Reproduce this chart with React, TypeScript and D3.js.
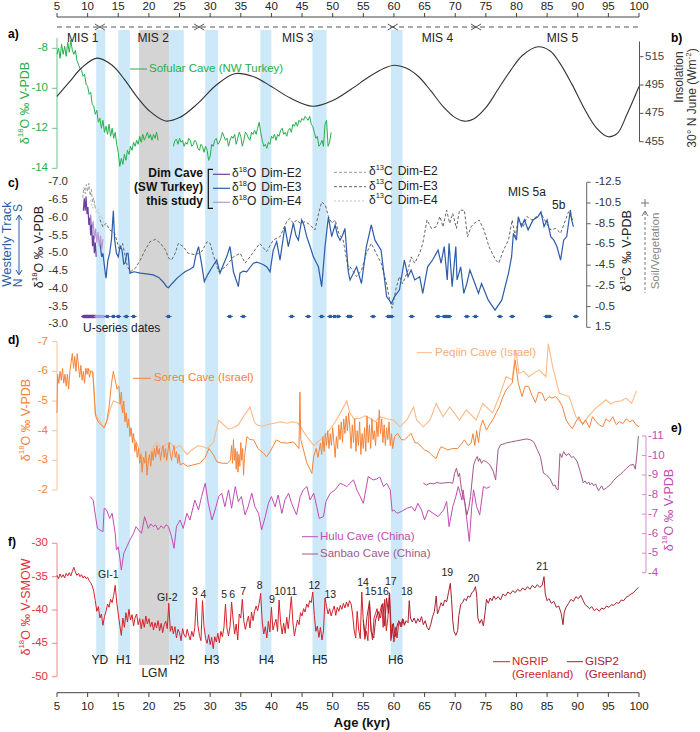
import React from 'react';
import * as d3 from 'd3';

type P = [number, number];

// ---------------- DATA ----------------
const ageTicks = [5, 10, 15, 20, 25, 30, 35, 40, 45, 50, 55, 60, 65, 70, 75, 80, 85, 90, 95, 100];
const ticksA = [-8, -10, -12, -14];
const ticksB = [515, 495, 475, 455];
const ticksC = [-7.0, -6.5, -6.0, -5.5, -5.0, -4.5, -4.0, -3.5, -3.0];
const ticksC13 = [-12.5, -10.5, -8.5, -6.5, -4.5, -2.5, -0.5, 1.5];
const ticksD = [-7, -6, -5, -4, -3, -2];
const ticksE = [-11, -10, -9, -8, -7, -6, -5, -4];
const ticksF = [-30, -35, -40, -45, -50];

// event bands (kyr)
const heinrichBands = [[11.4, 12.9], [15.0, 16.9], [23.3, 25.7], [29.2, 31.3], [38.2, 40.0], [46.7, 49.0], [59.5, 61.4]];
const lgmBand = [18.4, 23.3];
const eventNames = ['YD', 'H1', 'H2', 'H3', 'H4', 'H5', 'H6'];
const eventAges = [12.0, 15.9, 24.6, 30.25, 39.2, 47.9, 60.3];
const misBounds = [12.0, 28.2, 59.8, 73.4];
const misNames = ['MIS 1', 'MIS 2', 'MIS 3', 'MIS 4', 'MIS 5'];
const misAges = [9.2, 20.7, 44.3, 67.1, 87.5];

// a) Sofular Cave, regular 0.25 kyr sampling, rows of 1 kyr
const sofularStartA = 5;
const sofularStartB = 24;
const sofularStep = 0.25;
const sofularRowsA = [
  [-8.3, -8.0, -8.5, -7.8], [-8.3, -7.9, -8.4, -7.7], [-8.2, -7.6, -8.1, -8.3], [-8.1, -8.6, -8.8, -9.0],
  [-9.1, -9.4, -9.3, -9.8], [-9.9, -10.3, -10.2, -10.8], [-10.9, -11.3, -11.1, -11.7], [-11.5, -12.0, -11.6, -12.2],
  [-11.9, -12.3, -11.8, -12.4], [-12.0, -12.5, -12.2, -12.8], [-13.2, -13.9, -13.5, -13.8], [-13.3, -13.6, -13.1, -13.3],
  [-12.9, -13.1, -12.7, -12.9], [-12.6, -12.8, -12.4, -12.7], [-12.3, -12.6, -12.4, -12.2], [-12.5, -12.3, -12.6, -12.3],
  [-12.5, -12.2, -12.6],
];
const sofularRowsB = [
  [-12.9, -12.6, -12.55, -12.8], [-12.5, -12.7, -12.6, -12.9], [-12.7, -12.8, -12.5, -12.6], [-12.9, -12.8, -12.6, -12.7],
  [-13.0, -13.1, -12.8, -12.9], [-13.2, -12.9, -13.1, -13.6], [-13.4, -12.8, -12.9, -12.6], [-12.5, -12.8, -12.7, -12.5],
  [-12.2, -12.4, -12.6, -12.5], [-12.9, -12.6, -12.4, -12.5], [-12.3, -12.8, -12.5, -12.2], [-12.4, -12.9, -12.6, -12.2],
  [-12.3, -12.5, -12.6, -12.2], [-12.3, -12.1, -12.3, -12.0], [-11.7, -12.2, -12.6, -12.9], [-12.8, -13.0, -12.7, -12.8],
  [-12.4, -12.5, -12.3, -12.6], [-12.3, -12.4, -12.1, -12.0], [-12.3, -12.2, -12.4, -12.1], [-12.0, -12.2, -11.8, -11.9],
  [-11.7, -11.9, -11.6, -11.7], [-11.5, -11.6, -11.4, -11.5], [-11.6, -11.4, -11.8, -11.9], [-12.2, -12.5, -12.4, -12.9],
  [-12.8, -12.6, -12.9, -11.8], [-11.6, -12.9, -12.7, -12.2],
];

// b) Insolation 30N June
const insolAge = [5, 7, 9, 11.5, 14, 16, 18, 20, 22.7, 25, 28, 31, 34, 37, 40, 43, 46.8, 50, 53, 56, 58.5, 60, 62, 64, 66, 68, 70, 71.5, 73, 75, 77, 79, 81, 83.5, 85.5, 87, 89, 91, 93, 95, 96.5, 98, 100];
const insolVal = [487, 497, 507, 514, 509, 499, 487, 477, 469.6, 472, 482, 495, 503, 501, 494, 486, 480, 484, 492, 501, 507, 509, 507, 501, 491, 480, 472, 469.5, 471, 479, 492, 505, 516, 522, 519, 511, 496, 479, 465, 458.5, 461, 474, 494];

// c) Dim Cave
const dimE2_18O = [[9.3, -6.2], [9.45, -6.55], [9.6, -6.2], [9.75, -6.6], [9.9, -6.1], [10.05, -6.3], [10.2, -5.8], [10.35, -6.0], [10.5, -5.5], [10.65, -5.8], [10.8, -5.2], [10.95, -5.5], [11.1, -5.0], [11.25, -5.3], [11.4, -4.9]];
const dimE4_18O = [[10.3, -5.9], [10.5, -6.1], [10.7, -5.7], [10.9, -5.9], [11.1, -5.4], [11.3, -5.7], [11.5, -5.3], [11.7, -5.6], [11.9, -5.2], [12.1, -5.5], [12.3, -5.1], [12.5, -5.4]];
const dimE3_18O = [
  [12.0, -5.3], [12.3, -4.9], [12.5, -5.0], [12.8, -4.55], [13.0, -4.3], [13.3, -4.8], [13.6, -5.0], [13.9, -5.4], [14.2, -6.2], [14.4, -5.4],
  [14.7, -5.0], [15.0, -4.9], [15.3, -5.2], [15.6, -5.1], [15.9, -4.7], [16.1, -4.72], [16.4, -5.0], [16.6, -5.0], [16.9, -4.44], [17.6, -4.48],
  [18.6, -4.44], [19.6, -4.42], [20.7, -4.39], [21.6, -4.32], [22.3, -4.2], [22.9, -4.06], [23.2, -4.03], [23.8, -4.15], [24.6, -4.3], [25.3, -4.4],
  [25.9, -4.48], [26.7, -4.55], [27.3, -4.62], [27.6, -4.9], [28.1, -5.19], [28.6, -4.7], [29.05, -4.2], [29.6, -4.4], [30.3, -4.6], [31.07, -4.81],
  [31.6, -4.44], [32.2, -4.7], [32.7, -4.9], [33.24, -5.19], [33.8, -4.48], [34.6, -4.06], [34.87, -4.44], [35.4, -4.5], [35.97, -4.48], [36.5, -4.6],
  [37.05, -4.72], [37.6, -4.75], [38.14, -4.72], [38.7, -4.68], [39.23, -4.62], [39.77, -4.48], [40.3, -5.09], [40.86, -5.33], [41.4, -4.81], [42.2, -5.75],
  [42.76, -5.19], [43.58, -5.85], [44.0, -5.5], [44.4, -5.37], [44.94, -5.94], [45.3, -5.8], [45.76, -5.47], [46.3, -5.2], [46.85, -4.9], [47.3, -4.75],
  [47.67, -4.62], [48.2, -4.06], [48.75, -5.19], [49.3, -6.03], [49.84, -5.47], [50.4, -5.8], [50.8, -5.5], [51.2, -5.37], [51.6, -5.5], [52.0, -5.7],
  [52.55, -4.48], [52.83, -4.25], [53.9, -4.62], [54.7, -4.15], [55.5, -5.19], [56.3, -5.8], [56.9, -5.37], [57.9, -5.09], [58.8, -3.78], [59.6, -3.59],
  [60.1, -3.78], [60.9, -3.97], [61.7, -4.81], [62.3, -4.34], [62.8, -4.53], [63.4, -4.25], [64.2, -4.34], [64.7, -3.87], [65.5, -4.62], [66.3, -4.81],
  [67.2, -5.09], [67.7, -4.72], [68.2, -5.19], [68.7, -4.25], [69.0, -5.28], [69.5, -4.06], [70.1, -5.19], [70.3, -4.25], [70.9, -4.62], [71.4, -3.87],
  [71.9, -4.15], [72.4, -4.53], [73.0, -4.25], [73.8, -3.87], [74.3, -4.15], [75.4, -3.68], [76.5, -3.4], [77.6, -3.68], [78.7, -4.44], [79.2, -4.9],
  [79.5, -5.56], [80.0, -5.37], [80.3, -6.03], [80.8, -5.75], [81.3, -5.94], [81.9, -5.66], [82.7, -5.94], [83.5, -6.03], [84.0, -6.17], [84.5, -5.75],
  [85.0, -5.94], [85.6, -5.47], [86.1, -5.37], [86.6, -5.19], [87.2, -4.81], [87.7, -5.37], [88.2, -5.47], [88.8, -6.22], [89.0, -5.94], [89.3, -5.75],
];
const dimE2_13C = [[9.2, -11.0], [9.4, -12.0], [9.6, -11.4], [9.8, -12.3], [10.0, -11.6], [10.2, -12.4], [10.4, -11.2], [10.6, -11.8], [10.8, -10.6], [11.0, -11.0], [11.2, -10.2], [11.4, -9.8]];
const dimE4_13C = [[10.5, -10.8], [10.8, -10.0], [11.1, -10.4], [11.4, -9.6], [11.7, -9.9], [12.0, -9.0], [12.3, -9.3], [12.6, -8.6]];
const dimE3_13C = [
  [12.0, -8.9], [12.5, -8.2], [13.0, -8.54], [13.6, -7.9], [14.4, -7.58], [15.2, -5.97], [15.7, -6.6], [16.5, -4.35], [17.0, -3.87], [17.8, -4.2],
  [18.6, -5.0], [19.4, -5.97], [20.2, -6.77], [21.1, -7.0], [21.9, -6.6], [22.7, -5.97], [23.2, -5.2], [23.7, -5.0], [24.3, -5.65], [24.8, -6.6],
  [25.6, -6.3], [26.4, -5.65], [27.6, -5.5], [28.6, -5.8], [29.5, -6.77], [30.0, -6.6], [30.6, -5.3], [31.4, -3.87], [32.5, -4.35], [33.8, -5.3],
  [34.9, -5.65], [35.7, -4.7], [36.5, -5.3], [37.3, -5.97], [38.1, -6.6], [39.2, -5.8], [40.3, -6.93], [41.4, -7.25], [42.5, -8.7], [43.0, -9.0],
  [43.6, -8.54], [44.1, -8.86], [44.7, -8.54], [45.5, -8.7], [46.3, -8.4], [47.1, -7.9], [47.7, -9.5], [48.2, -10.6], [48.8, -10.3], [49.3, -9.2],
  [49.9, -8.54], [50.4, -8.86], [51.0, -7.58], [51.7, -6.93], [52.6, -4.0], [52.83, -4.35], [53.9, -3.4], [54.7, -4.0], [55.5, -5.65], [56.3, -6.6],
  [57.1, -5.65], [57.9, -4.7], [58.8, -2.7], [59.3, -1.14], [59.7, -0.35], [60.4, -2.4], [60.9, -3.4], [61.4, -2.7], [62.3, -4.0], [62.8, -5.3],
  [63.4, -4.7], [64.2, -5.65], [64.7, -6.6], [65.4, -8.86], [66.1, -8.05], [66.9, -8.2], [67.5, -9.2], [68.0, -8.2], [68.6, -9.8], [69.1, -8.54],
  [69.6, -9.5], [70.2, -8.05], [70.7, -9.8], [71.5, -9.8], [72.0, -7.25], [72.6, -8.2], [73.1, -8.54], [73.9, -8.86], [74.7, -7.9], [75.5, -6.3],
  [76.6, -5.0], [77.1, -4.7], [77.9, -5.97], [78.7, -6.93], [79.3, -8.86], [79.8, -7.25], [80.3, -9.0], [81.1, -8.2], [81.7, -9.2], [82.5, -8.86],
  [83.3, -9.2], [84.0, -9.5], [84.9, -8.54], [85.6, -7.9], [86.4, -8.05], [87.2, -7.58], [88.0, -8.86], [88.5, -9.66], [89.1, -8.86], [89.3, -9.2],
];
const useriesE2 = [9.4, 9.6, 9.8, 10.0, 10.2, 10.4, 10.6, 10.8, 11.0, 11.2];
const useriesE4 = [11.5, 11.8, 12.1, 12.5];
const useriesE3 = [13.2, 14.2, 15.0, 16.3, 17.5, 23.2, 33.2, 35.4, 43.3, 46.0, 48.2, 49.6, 50.3, 50.9, 52.6, 52.9, 56.6, 59.1, 59.6, 62.9, 67.2, 68.2, 68.6, 69.0, 71.9, 73.3, 77.3, 79.3, 84.9, 85.4, 89.7];

// d) Soreq & Peqiin
const soreq = [
  [5.0, -4.6], [5.1, -5.9], [5.3, -5.6], [5.5, -6.0], [5.7, -5.7], [5.9, -6.1], [6.1, -5.6], [6.3, -5.9], [6.5, -5.5], [6.7, -5.9], [6.9, -5.4], [7.1, -6.0],
  [7.3, -6.3], [7.5, -6.6], [7.7, -6.1], [7.9, -6.5], [8.1, -6.0], [8.3, -6.6], [8.5, -6.2], [8.7, -5.8], [8.9, -6.2], [9.1, -5.7], [9.3, -6.0], [9.5, -5.6],
  [9.7, -6.1], [9.9, -5.9], [10.1, -6.1], [10.3, -5.8], [10.5, -6.0], [10.8, -6.0], [11.1, -5.2], [11.3, -4.5], [11.7, -4.3], [12.2, -4.2], [12.7, -4.1],
  [13.1, -4.3], [13.5, -4.8], [13.9, -5.6], [14.2, -6.0], [14.5, -5.7], [14.8, -5.4], [15.1, -5.5], [15.3, -4.9], [15.5, -5.3], [15.7, -4.6], [15.9, -5.0],
  [16.1, -4.3], [16.3, -4.6], [16.5, -4.1], [16.7, -4.4], [16.9, -3.8], [17.1, -4.1], [17.3, -3.6], [17.5, -3.9], [17.7, -3.3], [17.9, -3.6], [18.1, -3.1],
  [18.3, -3.4], [18.5, -2.9], [18.7, -3.2], [18.9, -2.6], [19.1, -3.1], [19.3, -2.9], [19.5, -3.3], [19.7, -2.5], [19.9, -3.0], [20.1, -3.2], [20.3, -2.8],
  [20.5, -3.3], [20.7, -3.0], [20.9, -3.4], [21.1, -3.1], [21.3, -3.5], [21.5, -3.2], [21.7, -3.4], [21.9, -3.0], [22.1, -3.3], [22.3, -3.5], [22.5, -3.1],
  [22.7, -3.4], [22.9, -3.0], [23.1, -3.3], [23.3, -3.6], [23.5, -3.2], [23.7, -3.0], [23.9, -3.3], [24.1, -3.5], [24.3, -3.1], [24.5, -3.3], [24.7, -2.9],
  [24.9, -3.2], [25.1, -2.85], [25.6, -2.9], [26.3, -2.8], [27.3, -2.85], [28.3, -2.9], [29.2, -3.1], [29.8, -3.4], [30.5, -3.2], [31.1, -2.95], [32.0, -2.9],
  [32.8, -2.9], [33.3, -3.0], [33.5, -3.5], [33.65, -2.9], [33.8, -3.7], [33.95, -3.0], [34.1, -3.4], [34.25, -2.7], [34.4, -3.3], [34.55, -2.6], [34.7, -3.2],
  [34.85, -2.8], [35.0, -3.6], [35.15, -3.0], [35.3, -3.4], [35.45, -2.5], [35.6, -3.1], [36.0, -3.8], [36.5, -3.7], [37.1, -3.69], [37.8, -3.4], [38.7, -3.24],
  [39.2, -3.12], [39.8, -3.3], [40.8, -3.69], [41.6, -3.6], [42.5, -3.58], [43.6, -3.62], [44.5, -3.4], [44.65, -5.3], [44.8, -3.7], [45.3, -3.3], [45.8, -2.9],
  [46.3, -2.7], [46.6, -2.56], [46.9, -3.12], [47.3, -3.4], [47.6, -3.1], [48.0, -3.58], [48.2, -3.2], [48.4, -3.8], [48.6, -3.3], [48.8, -3.9], [49.0, -3.5],
  [49.2, -4.0], [49.4, -3.4], [49.6, -3.9], [49.8, -3.5], [50.0, -4.1], [50.2, -3.6], [50.4, -3.1], [50.6, -3.8], [50.8, -3.4], [51.0, -4.2], [51.2, -3.7],
  [51.4, -4.3], [51.6, -3.6], [51.8, -4.4], [52.0, -3.9], [52.2, -4.5], [52.4, -4.0], [52.6, -4.6], [52.8, -4.1], [53.0, -3.4], [53.2, -4.2], [53.4, -3.6],
  [53.6, -4.4], [53.8, -3.3], [54.0, -4.0], [54.2, -3.5], [54.4, -4.3], [54.6, -3.2], [54.8, -3.9], [55.0, -3.4], [55.2, -4.1], [55.4, -3.3], [55.6, -4.5],
  [55.8, -3.6], [56.0, -4.2], [56.2, -3.4], [56.4, -4.4], [56.6, -3.7], [56.8, -4.0], [57.0, -3.5], [57.2, -4.3], [57.4, -3.8], [57.6, -4.7], [57.8, -3.9],
  [58.0, -4.4], [58.2, -3.6], [58.4, -4.2], [58.6, -3.5], [58.8, -4.1], [59.0, -3.7], [59.2, -4.3], [59.4, -3.5], [59.6, -3.9], [59.8, -3.4], [60.1, -3.8],
  [60.6, -3.91], [61.2, -3.7], [61.7, -3.69], [62.3, -3.8], [62.8, -3.91], [63.4, -3.6], [63.9, -3.58], [64.5, -3.45], [65.0, -3.35], [65.6, -3.3], [66.1, -3.19],
  [66.9, -3.06], [67.3, -3.3], [67.7, -3.46], [68.3, -3.4], [68.8, -3.35], [69.6, -3.4], [70.4, -3.4], [71.0, -3.55], [71.5, -3.69], [72.1, -3.5], [72.6, -3.58],
  [72.9, -3.9], [73.2, -3.5], [73.5, -4.0], [73.8, -3.6], [74.1, -4.1], [74.5, -4.36], [75.1, -4.02], [75.6, -4.2], [76.1, -4.36], [76.7, -4.6], [77.2, -4.8],
  [77.7, -5.1], [78.3, -5.37], [78.8, -5.5], [79.3, -5.6], [79.8, -6.38], [80.3, -5.6], [80.9, -5.15], [81.4, -5.5], [82.0, -5.49], [82.5, -5.2], [83.1, -4.95],
  [83.6, -5.3], [84.2, -5.26], [84.7, -5.0], [85.3, -5.15], [85.8, -5.1], [86.4, -5.15], [87.0, -5.0], [87.5, -4.81], [88.1, -4.36], [88.6, -4.2], [89.1, -4.07],
  [89.7, -4.3], [90.2, -4.47], [90.8, -4.2], [91.3, -4.36], [91.9, -4.1], [92.4, -4.47], [93.0, -4.3], [93.5, -4.2], [94.1, -4.13], [94.6, -4.4], [95.2, -4.3],
  [95.7, -4.47], [96.3, -4.2], [96.8, -4.3], [97.4, -4.24], [97.9, -4.4], [98.5, -4.3], [99.0, -4.36], [99.5, -4.2], [100.0, -4.13],
];
const peqiin = [
  [9.5, -6.05], [10.0, -6.1], [10.5, -6.0], [10.9, -5.95], [11.2, -4.6], [11.6, -4.45], [12.2, -4.25], [12.6, -4.1], [13.2, -4.35], [13.8, -4.8], [14.2, -5.0],
  [14.8, -4.95], [15.3, -4.9], [16.1, -4.5], [16.9, -4.1], [17.5, -3.75], [18.0, -3.6], [18.5, -3.3], [19.2, -3.0], [19.6, -2.9], [20.2, -3.2], [20.8, -3.5],
  [21.3, -3.6], [22.0, -3.4], [22.8, -3.55], [23.5, -3.6], [24.2, -3.4], [25.1, -3.5], [25.6, -3.35], [26.2, -3.2], [27.0, -3.35], [28.0, -3.5], [29.0, -3.45],
  [29.5, -3.4], [30.5, -3.6], [31.4, -4.35], [32.2, -4.2], [33.0, -4.05], [33.8, -4.1], [34.6, -4.2], [35.5, -4.5], [36.2, -4.7], [36.5, -4.8], [37.2, -4.3],
  [37.6, -4.2], [38.5, -4.15], [39.2, -4.2], [40.5, -4.25], [41.5, -4.3], [42.5, -4.25], [43.5, -4.3], [44.4, -4.25], [45.3, -3.95], [45.8, -3.8], [46.9, -3.5],
  [48.0, -3.7], [49.0, -3.9], [50.1, -4.2], [51.0, -4.5], [52.3, -5.0], [52.8, -4.6], [53.5, -4.4], [54.5, -4.42], [55.3, -4.5], [56.1, -4.42], [56.9, -4.3],
  [57.7, -4.47], [58.8, -4.4], [59.9, -4.36], [61.0, -4.13], [62.1, -4.36], [63.2, -4.8], [63.7, -4.36], [64.8, -4.13], [65.9, -4.36], [66.9, -4.92], [68.0, -4.47],
  [69.1, -4.8], [70.7, -4.36], [71.8, -4.7], [73.4, -4.36], [74.5, -4.92], [76.1, -4.6], [77.2, -5.15], [78.3, -5.82], [79.3, -5.72], [79.9, -6.73], [80.4, -5.93],
  [81.2, -6.0], [82.0, -5.82], [82.9, -5.95], [83.7, -6.05], [84.8, -5.82], [85.2, -6.94], [85.9, -6.16], [87.0, -5.26], [88.6, -5.15], [89.7, -4.47], [90.8, -4.24],
  [91.8, -4.5], [92.9, -4.75], [93.8, -4.9], [94.6, -5.04], [95.4, -4.9], [96.2, -4.98], [97.0, -5.0], [97.9, -5.1], [98.8, -4.92], [99.6, -5.35],
];

// e) Hulu & Sanbao
const hulu = [
  [10.4, -7.9], [10.9, -7.72], [11.3, -6.87], [11.6, -6.27], [12.0, -6.19], [12.5, -6.1], [12.7, -7.3], [13.1, -7.21], [13.6, -6.78], [14.0, -7.04], [14.5, -6.02],
  [14.7, -5.16], [15.0, -5.33], [15.3, -4.65], [15.5, -4.14], [15.9, -4.99], [16.4, -5.33], [16.9, -5.67], [17.5, -6.02], [17.9, -6.36], [18.3, -6.19], [18.8, -6.02],
  [19.3, -6.87], [19.9, -6.27], [20.3, -6.5], [20.7, -6.36], [21.1, -6.45], [21.5, -6.19], [22.0, -6.4], [22.4, -6.27], [22.8, -6.45], [23.2, -6.36], [23.7, -5.84],
  [24.1, -5.25], [24.5, -6.36], [25.1, -6.7], [25.6, -6.27], [26.2, -7.04], [26.7, -6.7], [27.5, -7.72], [28.1, -7.21], [28.6, -7.9], [29.2, -8.58], [29.7, -7.55],
  [30.3, -6.7], [30.8, -7.21], [31.4, -7.9], [31.9, -8.07], [32.4, -7.38], [33.0, -8.24], [33.5, -7.3], [34.1, -8.41], [34.6, -7.64], [35.1, -7.9], [35.7, -6.96],
  [36.2, -7.38], [36.8, -8.07], [37.3, -7.38], [37.9, -7.04], [38.4, -6.19], [39.0, -6.87], [39.5, -7.55], [40.0, -7.9], [40.6, -7.38], [41.1, -7.98], [41.7, -7.04],
  [42.2, -7.72], [42.8, -8.07], [43.3, -7.55], [44.1, -6.96], [44.7, -7.9], [45.2, -8.24], [45.8, -8.41], [46.3, -7.72], [46.9, -8.07], [47.4, -7.38], [47.8, -6.78],
  [48.5, -6.87], [48.9, -7.64], [49.6, -8.07], [50.4, -8.24], [51.2, -8.58], [51.8, -8.5], [52.3, -8.41], [52.8, -8.58], [53.4, -8.75], [54.0, -8.2], [54.5, -7.9],
  [55.0, -7.55], [55.8, -8.92], [56.6, -8.75], [57.2, -8.8], [57.7, -8.9], [58.3, -8.41], [58.8, -8.58], [59.4, -8.24], [59.7, -7.15], [60.0, -7.21], [60.5, -7.04],
  [61.3, -7.15], [62.1, -7.3], [62.9, -7.38], [63.4, -7.15], [63.9, -7.55], [64.5, -7.21], [65.0, -6.7], [65.6, -7.21], [66.4, -7.04], [67.2, -6.87], [68.1, -7.21],
  [68.6, -7.64], [69.0, -6.36], [69.6, -7.38], [70.1, -7.9], [70.5, -8.41], [71.1, -7.72], [71.3, -8.24], [71.9, -6.7], [72.3, -5.6], [72.7, -7.38], [73.0, -8.24],
  [73.5, -7.38], [74.0, -6.96], [74.6, -8.41], [75.1, -8.32], [75.7, -8.41],
];
const sanbao = [
  [64.8, -8.58], [65.3, -8.49], [65.9, -8.58], [66.5, -8.55], [67.0, -8.62], [67.5, -8.58], [68.3, -8.6], [69.1, -8.62], [69.6, -8.58], [69.9, -9.09], [70.2, -9.35],
  [70.5, -8.92], [70.7, -9.1], [71.0, -8.3], [71.3, -7.9], [71.6, -7.55], [71.9, -6.95], [72.2, -7.3], [72.5, -7.9], [73.0, -9.5], [73.3, -9.77], [73.6, -9.95],
  [73.8, -9.7], [74.0, -9.85], [74.3, -9.6], [74.6, -9.75], [75.1, -9.68], [75.7, -9.5], [76.2, -9.2], [76.6, -8.75], [77.0, -10.3], [77.4, -10.55], [78.0, -10.6],
  [78.4, -10.65], [79.2, -10.7], [80.0, -10.75], [80.8, -10.8], [81.7, -10.85], [82.3, -10.8], [82.8, -10.7], [83.4, -10.3], [83.9, -9.95], [84.4, -9.1],
  [84.9, -9.0], [85.5, -8.8], [85.8, -8.6], [86.0, -8.45], [86.3, -8.5], [86.5, -8.3], [86.8, -8.25], [87.1, -10.1], [87.4, -9.9], [87.7, -10.2], [88.1, -10.0],
  [88.5, -10.1], [89.0, -9.9], [89.3, -9.95], [89.9, -9.7], [90.4, -9.2], [90.9, -8.6], [91.2, -8.7], [91.5, -8.55], [91.8, -8.65], [92.0, -8.5], [92.3, -8.6],
  [92.6, -8.45], [92.9, -8.55], [93.1, -8.4], [93.4, -8.2], [93.6, -8.3], [93.9, -8.45], [94.2, -8.24], [94.7, -8.35], [95.3, -8.5], [95.8, -8.7], [96.4, -8.9],
  [97.0, -9.05], [97.5, -9.2], [98.0, -9.35], [98.5, -9.5], [99.1, -9.55], [99.4, -9.3], [99.7, -10.2], [99.9, -11.0],
];

// f) NGRIP (0.25 kyr rows from 5 ka) and GISP2
const ngripStart = 5;
const ngripStep = 0.25;
const ngripRows = [
  [-34.8, -35.3, -34.6, -35.1], [-34.7, -35.2, -34.5, -34.9], [-34.4, -34.9, -34.2, -33.6], [-34.3, -34.8, -34.5, -35.0],
  [-34.7, -35.2, -34.9, -35.3], [-35.1, -35.6, -35.9, -36.4], [-37.2, -38.6, -40.2, -39.5], [-41.2, -40.6, -42.3, -41.0],
  [-40.2, -39.1, -39.6, -38.4], [-38.9, -37.8, -36.3, -38.8], [-40.6, -42.3, -43.8, -41.2], [-42.6, -40.4, -41.8, -39.9],
  [-41.5, -40.7, -42.4, -41.1], [-40.6, -42.2, -41.3, -42.8], [-41.4, -42.6, -40.9, -42.1], [-41.3, -42.5, -41.8, -43.0],
  [-41.9, -42.7, -41.6, -43.1], [-42.0, -43.4, -42.2, -41.7], [-42.8, -39.0, -43.2, -42.4], [-43.6, -42.5, -44.2, -42.9],
  [-43.4, -44.6, -42.8, -43.7], [-44.1, -42.9, -43.8, -44.5], [-43.2, -44.0, -42.6, -38.2], [-42.3, -43.8, -44.6, -38.6],
  [-42.5, -44.3, -45.0, -43.7], [-45.2, -44.1, -45.8, -44.0], [-44.8, -43.5, -44.9, -43.2], [-44.0, -42.6, -39.1, -42.8],
  [-43.9, -42.4, -38.8, -41.5], [-43.6, -42.1, -44.5, -40.6], [-41.2, -38.4, -41.7, -42.9], [-41.8, -40.9, -42.7, -40.3],
  [-41.6, -40.2, -39.4, -40.1], [-39.0, -37.5, -41.8, -43.6], [-42.5, -44.2, -41.7, -43.3], [-39.6, -43.0, -42.1, -41.4],
  [-43.2, -38.5, -41.9, -43.6], [-42.0, -43.5, -41.1, -42.8], [-40.5, -38.0, -41.8, -43.9], [-42.6, -41.5, -42.2, -40.4],
  [-40.9, -39.8, -40.3, -39.1], [-39.6, -38.6, -38.9, -37.3], [-40.8, -43.2, -42.4, -44.1], [-42.6, -44.5, -43.1, -38.2],
  [-39.5, -40.6, -39.8, -40.9], [-40.1, -39.4, -40.8, -39.6], [-40.2, -39.3, -39.9, -39.0], [-39.7, -38.8, -39.5, -38.6],
  [-39.1, -40.6, -43.0, -44.2], [-40.2, -43.0, -44.3, -37.3], [-41.8, -44.4, -43.2, -44.6], [-38.6, -43.0, -44.5, -41.2],
  [-40.5, -39.8, -41.6, -40.2], [-39.2, -42.6, -38.4, -43.1], [-41.3, -37.4, -44.6, -42.1], [-44.8, -42.6, -44.2, -42.1],
  [-41.8, -42.5, -41.4, -42.2],
];
const gisp2 = [
  [55.0, -41.5], [55.3, -43.8], [55.6, -41], [56.0, -38.8], [56.3, -43.2], [56.7, -44.2], [57.0, -41.5], [57.4, -40.2], [57.8, -41.2], [58.2, -39], [58.5, -42.4],
  [58.8, -38.2], [59.1, -40.5], [59.3, -37.6], [59.6, -44.2], [59.9, -42], [60.2, -44], [60.5, -42.4], [60.8, -41.6], [61.1, -42.5], [61.4, -41.3], [61.7, -42.3],
  [62.0, -41.6], [62.3, -41.9], [62.5, -38.6], [62.7, -41.2], [63.0, -41.8], [63.3, -41.2], [63.6, -42.0], [63.9, -41.3], [64.2, -41.8], [64.5, -41.0], [64.8, -42.2],
  [65.1, -41.6], [65.4, -42.6], [65.7, -43.0], [66.0, -42.2], [66.3, -41.0], [66.6, -40.2], [66.9, -37.9], [67.1, -40.6], [67.4, -39.8], [67.7, -38.9], [68.0, -39.4],
  [68.3, -38.5], [68.6, -38.8], [68.9, -37.4], [69.2, -36.0], [69.4, -38.4], [69.6, -41.6], [69.8, -43.2], [70.1, -43.8], [70.4, -43.1], [70.6, -40.8], [70.9, -39.2],
  [71.2, -38.9], [71.5, -38.3], [71.8, -38.6], [72.1, -37.9], [72.4, -38.1], [72.7, -37.4], [73.0, -37.2], [73.3, -36.5], [73.5, -37.6], [73.7, -41.2], [74.0, -42.0],
  [74.3, -41.4], [74.6, -42.4], [74.9, -40.2], [75.1, -38.4], [75.4, -39.0], [75.7, -38.2], [76.0, -38.6], [76.3, -37.9], [76.6, -38.4], [77.0, -38.0], [77.4, -38.5],
  [77.8, -37.6], [78.2, -37.9], [78.6, -37.3], [79.0, -37.6], [79.4, -37.1], [79.8, -37.4], [80.2, -36.9], [80.6, -37.2], [81.0, -36.7], [81.4, -37.0], [81.8, -36.5],
  [82.2, -36.9], [82.6, -36.3], [83.0, -36.7], [83.4, -36.2], [83.8, -36.6], [84.2, -36.3], [84.5, -35.0], [84.7, -37.6], [85.0, -38.6], [85.3, -38.3], [85.7, -39.0],
  [86.1, -38.7], [86.5, -39.6], [86.9, -39.4], [87.3, -40.5], [87.6, -42.2], [87.8, -40.3], [88.1, -39.6], [88.5, -39.0], [88.9, -38.4], [89.3, -38.7], [89.7, -38.0],
  [90.1, -38.3], [90.5, -37.8], [90.9, -38.6], [91.2, -39.2], [91.5, -39.4], [91.9, -39.8], [92.3, -39.5], [92.7, -40.1], [93.1, -39.8], [93.5, -40.2], [93.9, -39.7],
  [94.3, -39.9], [94.7, -39.4], [95.1, -39.6], [95.5, -39.2], [95.9, -39.3], [96.3, -38.9], [96.7, -39.0], [97.1, -38.5], [97.5, -38.6], [97.9, -38.1], [98.3, -37.9],
  [98.7, -37.6], [99.1, -37.4], [99.5, -37.0], [99.9, -36.6],
];
const giNames = ['GI-1', 'GI-2', '3', '4', '5', '6', '7', '8', '9', '10', '11', '12', '13', '14', '15', '16', '17', '18', '19', '20', '21'];
const giAges = [13.37, 23.0, 27.5, 28.9, 32.3, 33.6, 35.4, 38.1, 40.1, 41.4, 43.3, 47.0, 49.6, 54.95, 56.2, 58.2, 59.5, 62.1, 68.7, 73.0, 84.2];
const giVals = [-34.75, -38.25, -37.26, -37.75, -37.75, -37.75, -37.3, -36.4, -38.5, -37.3, -37.3, -36.4, -37.75, -35.95, -37.26, -37.26, -35.9, -37.26, -34.5, -35.4, -33.6];

// ---------------- SCALES / HELPERS ----------------
const x = d3.scaleLinear().domain([5, 100]).range([57, 639]);
const yA = d3.scaleLinear().domain([-8, -14]).range([48.3, 168.3]);
const yB = d3.scaleLinear().domain([455, 515]).range([141.7, 56.7]);
const yC = d3.scaleLinear().domain([-7, -3]).range([182.3, 324.3]);
const yC13 = d3.scaleLinear().domain([-12.5, 1.5]).range([182.3, 327.3]);
const yD = d3.scaleLinear().domain([-7, -2]).range([341.7, 490]);
const yE = d3.scaleLinear().domain([-11, -4]).range([436, 572.7]);
const yF = d3.scaleLinear().domain([-30, -50]).range([543.3, 676.7]);

const expand = (start: number, step: number, rows: number[][]): P[] =>
  rows.flat().map((v, i) => [start + i * step, v] as P);

const mk = (ys: d3.ScaleLinear<number, number>, curve?: d3.CurveFactory) => {
  const g = d3.line<P>().x(d => x(d[0])).y(d => ys(d[1]));
  if (curve) g.curve(curve);
  return g;
};

const FONT = 'Liberation Sans, Arial, Helvetica, sans-serif';

function Iso({ fs, iso, el }: { fs: number; iso: string; el: string }) {
  return (
    <>
      <tspan>δ</tspan>
      <tspan fontSize={fs * 0.62} dy={-fs * 0.38}>{iso}</tspan>
      <tspan dy={fs * 0.38}>{el}</tspan>
    </>
  );
}

function RotText({ cx, cy, fs, fill, children, weight }: any) {
  return (
    <text transform={`translate(${cx},${cy}) rotate(-90)`} textAnchor="middle" dominantBaseline="middle" fontSize={fs} fill={fill} fontWeight={weight}>
      {children}
    </text>
  );
}

function LeftAxis({ ys, ticks, color, lineColor, top, bottom, fmt }: any) {
  return (
    <g>
      <line x1={57} x2={57} y1={top} y2={bottom} stroke={lineColor} strokeWidth={1} />
      {ticks.map((t: number) => (
        <g key={t}>
          <line x1={52} x2={57} y1={ys(t)} y2={ys(t)} stroke={lineColor} />
          <text x={48} y={ys(t)} textAnchor="end" dominantBaseline="middle" fontSize={11.5} fill={color}>{fmt ? fmt(t) : String(t)}</text>
        </g>
      ))}
    </g>
  );
}

function RightAxis({ ys, ticks, color, lineColor, ax, top, bottom, tickDir, fmt, labelX }: any) {
  return (
    <g>
      <line x1={ax} x2={ax} y1={top} y2={bottom} stroke={lineColor} strokeWidth={1} />
      {ticks.map((t: number) => (
        <g key={t}>
          <line x1={ax} x2={ax + tickDir * 4} y1={ys(t)} y2={ys(t)} stroke={lineColor} />
          <text x={labelX} y={ys(t)} textAnchor="start" dominantBaseline="middle" fontSize={11.5} fill={color}>{fmt ? fmt(t) : String(t)}</text>
        </g>
      ))}
    </g>
  );
}

export default function App() {
  const sofA = expand(sofularStartA, sofularStep, sofularRowsA);
  const sofB = expand(sofularStartB, sofularStep, sofularRowsB);
  const insol: P[] = insolAge.map((a, i) => [a, insolVal[i]]);
  const ngrip = expand(ngripStart, ngripStep, ngripRows);

  const lA = mk(yA);
  const lB = mk(yB, d3.curveCatmullRom);
  const lC = mk(yC);
  const lC13 = mk(yC13);
  const lD = mk(yD);
  const lE = mk(yE);
  const lF = mk(yF);

  const bandTop = 30;
  const blueBottom = 660;
  const greyBottom = 665;

  const green = '#27ae4a';
  const blue = '#2b5ca8';
  const purple = '#6b3fa0';
  const lpurple = '#b49ad6';
  const soreqC = '#f5843a';
  const peqiinC = '#fbb987';
  const huluC = '#c24cb4';
  const sanbaoC = '#9e5a85';
  const ngripC = '#d4222b';
  const gispC = '#a3232e';

  const yUs = yC(-3.22);

  return (
    <svg width={700} height={732} style={{ position: 'absolute', left: 0, top: 0, background: '#fff' }} fontFamily={FONT}>
      <rect x={0} y={0} width={700} height={732} fill="#fff" />
      {/* bands */}
      {heinrichBands.map((b, i) => (
        <rect key={i} x={x(b[0])} y={bandTop} width={x(b[1]) - x(b[0])} height={blueBottom - bandTop} fill="#cde9f9" />
      ))}
      <rect x={x(lgmBand[0])} y={bandTop} width={x(lgmBand[1]) - x(lgmBand[0])} height={greyBottom - bandTop} fill="#d4d4d4" />

      {/* top axis */}
      <line x1={x(5)} x2={x(100)} y1={17} y2={17} stroke="#444" />
      {ageTicks.map(t => (
        <g key={'tt' + t}>
          <line x1={x(t)} x2={x(t)} y1={13} y2={17} stroke="#444" />
          <text x={x(t)} y={10} textAnchor="middle" fontSize={11.5} fill="#222">{t}</text>
        </g>
      ))}
      {/* MIS dashed line */}
      <line x1={x(5)} x2={x(100)} y1={27} y2={27} stroke="#555" strokeDasharray="5,4" />
      {misBounds.map((b, i) => (
        <g key={'mb' + i} stroke="#444" fill="none" strokeWidth={0.9}>
          <path d={`M${x(b) - 5},24 L${x(b)},27 L${x(b) - 5},30`} />
          <path d={`M${x(b) + 5},24 L${x(b)},27 L${x(b) + 5},30`} />
        </g>
      ))}
      {misNames.map((m, i) => (
        <text key={m} x={x(misAges[i])} y={41.5} textAnchor="middle" fontSize={12} fill="#222">{m}</text>
      ))}

      {/* bottom axis */}
      <line x1={x(5)} x2={x(100)} y1={692.7} y2={692.7} stroke="#444" />
      {ageTicks.map(t => (
        <g key={'bt' + t}>
          <line x1={x(t)} x2={x(t)} y1={692.7} y2={697} stroke="#444" />
          <text x={x(t)} y={709.5} textAnchor="middle" fontSize={11.5} fill="#222">{t}</text>
        </g>
      ))}
      <text x={362} y={727} textAnchor="middle" fontSize={13} fontWeight="bold" fill="#111">Age (kyr)</text>

      {/* ---------- a) Sofular ---------- */}
      <text x={8} y={37.5} fontSize={12} fontWeight="bold">a)</text>
      <LeftAxis ys={yA} ticks={ticksA} color={green} lineColor="#6cc583" top={38} bottom={168.3} />
      <RotText cx={26} cy={103} fs={12.5} fill={green}><Iso fs={12.5} iso="18" el="O" /> ‰ V-PDB</RotText>
      <path d={lA(sofA) || ''} fill="none" stroke={green} strokeWidth={1} />
      <path d={lA(sofB) || ''} fill="none" stroke={green} strokeWidth={1} />
      <line x1={130} x2={147} y1={69} y2={69} stroke={green} />
      <text x={149} y={69} dominantBaseline="middle" fontSize={11.5} fill={green}>Sofular Cave (NW Turkey)</text>

      {/* ---------- b) Insolation ---------- */}
      <path d={lB(insol) || ''} fill="none" stroke="#333" strokeWidth={1.1} />
      <RightAxis ys={yB} ticks={ticksB} color="#444" lineColor="#555" ax={639.5} top={41.5} bottom={141.7} tickDir={1} labelX={645} />
      <text x={671} y={41.5} fontSize={12} fontWeight="bold">b)</text>
      <RotText cx={680} cy={77} fs={12} fill="#333">Insolation</RotText>
      <RotText cx={693} cy={98} fs={12} fill="#333">
        <tspan>30° N June (Wm</tspan><tspan fontSize={8} dy={-4}>-2</tspan><tspan dy={4}>)</tspan>
      </RotText>

      {/* ---------- c) Dim Cave ---------- */}
      <text x={8} y={187} fontSize={12} fontWeight="bold">c)</text>
      {ticksC.map(t => (
        <text key={'c' + t} x={68} y={yC(t)} textAnchor="end" dominantBaseline="middle" fontSize={11.5} fill="#333">{t.toFixed(1)}</text>
      ))}
      <RotText cx={40} cy={247} fs={12.5} fill="#222"><Iso fs={12.5} iso="18" el="O" /> ‰ V-PDB</RotText>
      <RotText cx={8} cy={244} fs={13} fill={blue}>Westerly Track</RotText>
      <text transform={`translate(19,208) rotate(-90)`} textAnchor="middle" dominantBaseline="middle" fontSize={12} fill={blue}>S</text>
      <text transform={`translate(19,283) rotate(-90)`} textAnchor="middle" dominantBaseline="middle" fontSize={12} fill={blue}>N</text>
      <g stroke={blue} fill="none" strokeWidth={1}>
        <line x1={19} x2={19} y1={216} y2={274} />
        <path d="M16,220 L19,215 L22,220" />
        <path d="M16,270 L19,275 L22,270" />
      </g>

      <RightAxis ys={yC13} ticks={ticksC13} color="#333" lineColor="#666" ax={586.7} top={182.3} bottom={327.3} tickDir={1} labelX={595} fmt={(t: number) => t.toFixed(1)} />
      <RotText cx={628} cy={251} fs={12.5} fill="#222"><Iso fs={12.5} iso="13" el="C" /> ‰ V-PDB</RotText>
      <RotText cx={656} cy={251} fs={11.5} fill="#888">Soil/Vegetation</RotText>
      <g stroke="#777" fill="none">
        <line x1={645} x2={645} y1={212} y2={293} strokeDasharray="3,2" />
        <path d="M642,216 L645,211 L648,216" />
        <line x1={641} x2={649} y1={203} y2={203} />
        <line x1={645} x2={645} y1={199} y2={207} />
      </g>

      {/* δ13C dashed */}
      <path d={lC13(dimE2_13C as P[]) || ''} fill="none" stroke="#9a9a9a" strokeWidth={1} strokeDasharray="3,2" />
      <path d={lC13(dimE4_13C as P[]) || ''} fill="none" stroke="#c4c4c4" strokeWidth={1} strokeDasharray="2,2" />
      <path d={lC13(dimE3_13C as P[]) || ''} fill="none" stroke="#666" strokeWidth={1} strokeDasharray="3,2" />
      {/* δ18O */}
      <path d={lC(dimE3_18O as P[]) || ''} fill="none" stroke={blue} strokeWidth={1.2} />
      <path d={lC(dimE4_18O as P[]) || ''} fill="none" stroke={lpurple} strokeWidth={1.2} />
      <path d={lC(dimE2_18O as P[]) || ''} fill="none" stroke={purple} strokeWidth={1.2} />

      {/* U-series dates */}
      {[[useriesE2, purple], [useriesE4, lpurple], [useriesE3, blue]].map(([arr, col]: any, k) =>
        arr.map((a: number, i: number) => (
          <g key={'u' + k + '-' + i}>
            <line x1={x(a) - 3} x2={x(a) + 3} y1={yUs} y2={yUs} stroke={col} strokeWidth={1} />
            <rect x={x(a) - 1.6} y={yUs - 1.6} width={3.2} height={3.2} fill={col} />
          </g>
        ))
      )}
      <text x={83} y={332} fontSize={12} fill="#222">U-series dates</text>

      {/* legend c */}
      <text x={203} y={174.3} textAnchor="end" dominantBaseline="middle" fontSize={12} fontWeight="bold" fill="#111">Dim Cave</text>
      <text x={203} y={188.3} textAnchor="end" dominantBaseline="middle" fontSize={12} fontWeight="bold" fill="#111">(SW Turkey)</text>
      <text x={203} y={202.3} textAnchor="end" dominantBaseline="middle" fontSize={12} fontWeight="bold" fill="#111">this study</text>
      <path d="M213,169.3 L208.3,169.3 L208.3,208.3 L213,208.3" fill="none" stroke="#111" strokeWidth={1.2} />
      {[['Dim-E2', purple, 174.3], ['Dim-E3', blue, 188.3], ['Dim-E4', lpurple, 202.3]].map(([n, c, yy]: any) => (
        <g key={'l18' + n}>
          <line x1={213} x2={230} y1={yy} y2={yy} stroke={c} strokeWidth={1.2} />
          <text x={232} y={yy} dominantBaseline="middle" fontSize={12} fill="#222"><Iso fs={12} iso="18" el="O" /><tspan dx={5}>{n}</tspan></text>
        </g>
      ))}
      {[['Dim-E2', '#9a9a9a', 172.3, '3,2'], ['Dim-E3', '#666', 186.7, '3,2'], ['Dim-E4', '#c4c4c4', 201, '2,2']].map(([n, c, yy, da]: any) => (
        <g key={'l13' + n}>
          <line x1={334} x2={366} y1={yy} y2={yy} stroke={c} strokeWidth={1} strokeDasharray={da} />
          <text x={369} y={yy} dominantBaseline="middle" fontSize={12} fill="#222"><Iso fs={12} iso="13" el="C" /><tspan dx={5}>{n}</tspan></text>
        </g>
      ))}
      <text x={x(81.7)} y={193} textAnchor="middle" dominantBaseline="middle" fontSize={12} fill="#222">MIS 5a</text>
      <text x={x(86.9)} y={205.7} textAnchor="middle" dominantBaseline="middle" fontSize={12} fill="#222">5b</text>

      {/* ---------- d) Soreq / Peqiin ---------- */}
      <text x={8} y={344} fontSize={12} fontWeight="bold">d)</text>
      <LeftAxis ys={yD} ticks={ticksD} color="#f0843c" lineColor="#f9c39c" top={341.7} bottom={490} />
      <RotText cx={27} cy={420} fs={12.5} fill="#f0843c"><Iso fs={12.5} iso="18" el="O" /> ‰ V-PDB</RotText>
      <path d={lD(peqiin as P[]) || ''} fill="none" stroke={peqiinC} strokeWidth={1.1} />
      <path d={lD(soreq as P[]) || ''} fill="none" stroke={soreqC} strokeWidth={1} />
      <line x1={133} x2={151} y1={378.3} y2={378.3} stroke={soreqC} />
      <text x={154} y={378.3} dominantBaseline="middle" fontSize={11.5} fill={soreqC}>Soreq Cave (Israel)</text>
      <line x1={416.7} x2={432} y1={352.7} y2={352.7} stroke={peqiinC} />
      <text x={435} y={352.7} dominantBaseline="middle" fontSize={11.5} fill="#f7ad78">Peqiin Cave (Israel)</text>

      {/* ---------- e) Hulu / Sanbao ---------- */}
      <text x={671} y={432} fontSize={12} fontWeight="bold">e)</text>
      <RightAxis ys={yE} ticks={ticksE} color={huluC} lineColor="#d58ccb" ax={646} top={436} bottom={572.7} tickDir={-1} labelX={648} />
      <RotText cx={670} cy={510} fs={12.5} fill={huluC}><Iso fs={12.5} iso="18" el="O" /> ‰ V-PDB</RotText>
      <path d={lE(hulu as P[]) || ''} fill="none" stroke={huluC} strokeWidth={1} />
      <path d={lE(sanbao as P[]) || ''} fill="none" stroke={sanbaoC} strokeWidth={1} />
      <line x1={302} x2={318} y1={536.7} y2={536.7} stroke={huluC} />
      <text x={320} y={536.7} dominantBaseline="middle" fontSize={11.5} fill={huluC}>Hulu Cave (China)</text>
      <line x1={302} x2={318} y1={554} y2={554} stroke={sanbaoC} />
      <text x={320} y={554} dominantBaseline="middle" fontSize={11.5} fill={sanbaoC}>Sanbao Cave (China)</text>

      {/* ---------- f) Greenland ---------- */}
      <text x={8} y={546} fontSize={12} fontWeight="bold">f)</text>
      <LeftAxis ys={yF} ticks={ticksF} color="#e0323a" lineColor="#ee8a8e" top={543.3} bottom={676.7} />
      <RotText cx={27} cy={607} fs={12.5} fill="#e0323a"><Iso fs={12.5} iso="18" el="O" /> ‰ V-SMOW</RotText>
      <path d={lF(ngrip) || ''} fill="none" stroke={ngripC} strokeWidth={1} />
      <path d={lF(gisp2 as P[]) || ''} fill="none" stroke={gispC} strokeWidth={1} />
      {giNames.map((g, i) => (
        <text key={'gi' + g} x={x(giAges[i])} y={yF(giVals[i])} textAnchor="middle" dominantBaseline="middle" fontSize={10.5} fill="#222">{g}</text>
      ))}
      <line x1={493} x2={510} y1={661.7} y2={661.7} stroke={ngripC} />
      <text x={512} y={661.7} dominantBaseline="middle" fontSize={11.5} fill={ngripC}>NGRIP</text>
      <text x={512} y={675} dominantBaseline="middle" fontSize={11.5} fill={ngripC}>(Greenland)</text>
      <line x1={567} x2={583} y1={661.7} y2={661.7} stroke={gispC} />
      <text x={585} y={661.7} dominantBaseline="middle" fontSize={11.5} fill={gispC}>GISP2</text>
      <text x={585} y={675} dominantBaseline="middle" fontSize={11.5} fill={gispC}>(Greenland)</text>

      {/* event labels */}
      {eventNames.map((n, i) => (
        <text key={'ev' + n} x={x(eventAges[i])} y={661} textAnchor="middle" dominantBaseline="middle" fontSize={12} fill="#222">{n}</text>
      ))}
      <text x={x(20.9)} y={674} textAnchor="middle" dominantBaseline="middle" fontSize={12} fill="#222">LGM</text>
    </svg>
  );
}
